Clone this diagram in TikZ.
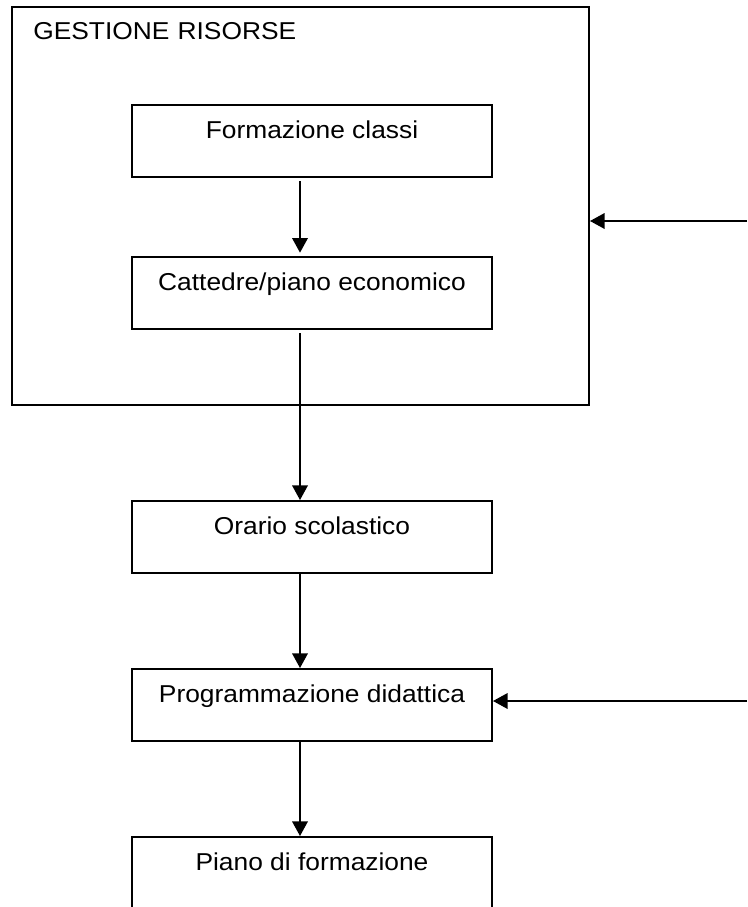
\documentclass[tikz,border=0pt]{standalone}
\usepackage{fontspec}
\setmainfont{Liberation Sans}[FakeStretch=1.08]
\usetikzlibrary{arrows.meta}
\begin{document}
\begin{tikzpicture}[x=0.75pt,y=-0.75pt,
  every node/.style={font=\fontsize{18.3pt}{21pt}\selectfont},
  stepbox/.style={draw,line width=1.4pt,rectangle,inner xsep=0pt,inner ysep=0pt,
    minimum width=270pt,text height=24.75pt,text depth=29.25pt},
  groupbox/.style={draw,line width=1.4pt,rectangle,inner xsep=16pt,inner ysep=0pt,
    text width=400.75pt,align=left,text height=24pt,text depth=274.5pt},
  flow/.style={line width=1.8pt,-{Triangle[length=11pt,width=11.5pt]}}]
\useasboundingbox (0,0) rectangle (747,907);
% resource management group
\node[groupbox] (gr) at (300.5,206) {GESTIONE RISORSE};
% process steps
\node[stepbox] (fc) at (312,141) {Formazione classi};
\node[stepbox] (cp) at (312,293) {Cattedre/piano economico};
\node[stepbox] (or) at (312,537) {Orario scolastico};
\node[stepbox] (pd) at (312,705) {Programmazione didattica};
\node[stepbox] (pf) at (312,873) {Piano di formazione};
% external inputs
\coordinate (in1) at (747,221);
\coordinate (in2) at (747,701);
% connectors
\draw[flow,shorten <=2.5pt,shorten >=2.5pt] ([xshift=-9pt]fc.south) -- ([xshift=-9pt]cp.north);
\draw[flow,shorten <=2.5pt] ([xshift=-9pt]cp.south) -- ([xshift=-9pt]or.north);
\draw[flow] ([xshift=-9pt]or.south) -- ([xshift=-9pt]pd.north);
\draw[flow] ([xshift=-9pt]pd.south) -- ([xshift=-9pt]pf.north);
\draw[flow] (in1) -- (gr.east |- in1);
\draw[flow] (in2) -- (pd.east |- in2);
\end{tikzpicture}
\end{document}
